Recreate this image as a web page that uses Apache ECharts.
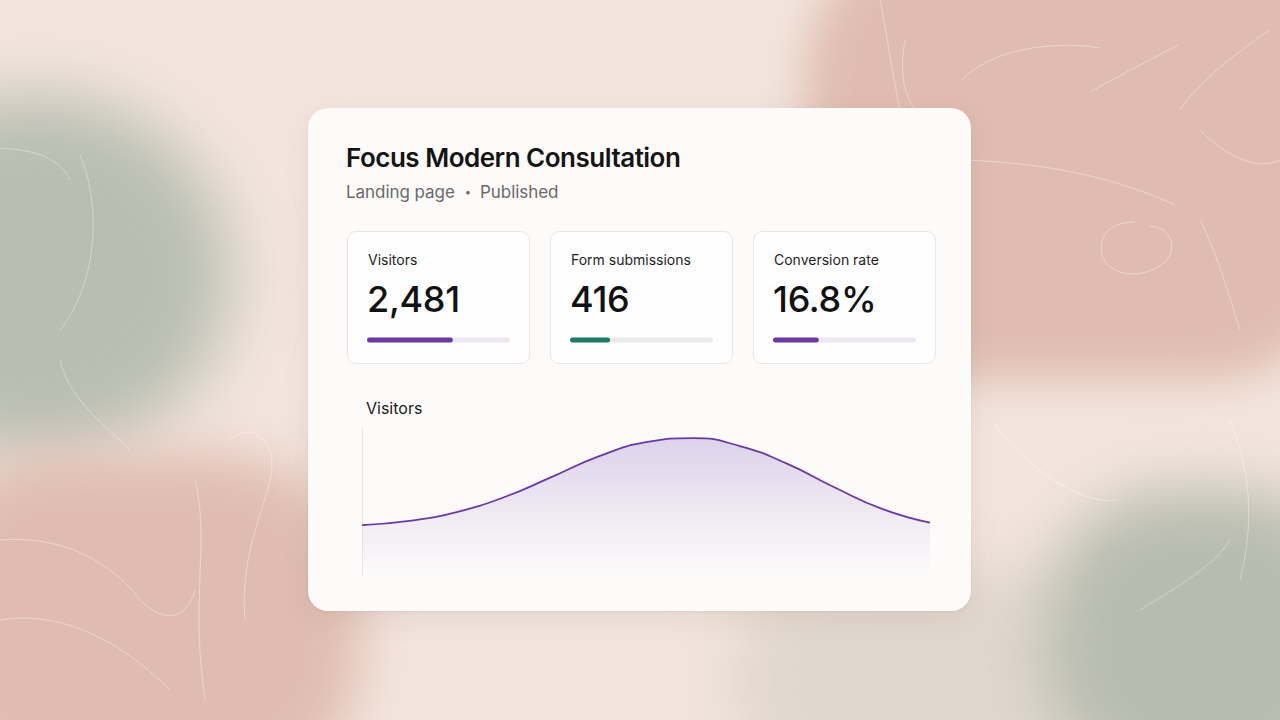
<!DOCTYPE html>
<html>
<head>
<meta charset="utf-8">
<script src="https://cdn.jsdelivr.net/npm/echarts/dist/echarts.min.js"></script>
<style>
  html, body { margin: 0; padding: 0; width: 1280px; height: 720px; overflow: hidden; }
  body { background: #f3e5dd; font-family: Inter, "Noto Sans", "Liberation Sans", sans-serif; position: relative; }
  .blob { position: absolute; }
  #squiggles { position: absolute; left: 0; top: 0; }
  .card { position: absolute; left: 308px; top: 108px; width: 663px; height: 503px; border-radius: 20px;
          background: #fcfbfa; box-shadow: 0 8px 28px rgba(120, 90, 80, 0.10), 0 1px 3px rgba(120,90,80,0.08); }
  .title { position: absolute; left: 346px; top: 142px; font-size: 26px; font-weight: 600; color: #141414; letter-spacing: -0.5px; white-space: nowrap; }
  .subtitle { position: absolute; left: 346px; top: 182px; font-size: 17px; color: #6a6a6a; white-space: nowrap; letter-spacing: -0.05px; }
  .subtitle .dot { display: inline-block; font-size: 11px; vertical-align: 2px; margin: 0 9px 0 10px; }
  .kpi { position: absolute; top: 231px; width: 183px; height: 133px; border-radius: 9px; background: #fefefe;
         border: 1px solid #e9e6e4; box-sizing: border-box; }
  .kpi-label { position: absolute; left: 20px; top: 19px; font-size: 14px; color: #1e1e1e; white-space: nowrap; }
  .kpi-value { position: absolute; left: 19px; top: 45px; font-size: 36px; font-weight: 500; color: #111; letter-spacing: -0.3px; white-space: nowrap; }
  .chart-title { position: absolute; left: 366px; top: 398px; font-size: 16px; color: #1a1a1a; white-space: nowrap; }
  #chart { position: absolute; left: 0; top: 0; width: 1280px; height: 720px; }
</style>
</head>
<body>
<div class="blob" style="left:-160px;top:95px;width:390px;height:360px;border-radius:50%;background:#b9beb2;filter:blur(32px);"></div>
<div class="blob" style="left:805px;top:-80px;width:560px;height:460px;border-radius:160px;background:#e0bcb0;filter:blur(22px);"></div>
<div class="blob" style="left:-80px;top:455px;width:440px;height:340px;border-radius:140px;background:#e0bcb0;filter:blur(26px);"></div>
<div class="blob" style="left:730px;top:570px;width:380px;height:220px;border-radius:100px;background:#e0d7cd;filter:blur(30px);"></div>
<div class="blob" style="left:1045px;top:490px;width:320px;height:300px;border-radius:130px;background:#b8bcb0;filter:blur(30px);"></div>

<svg id="squiggles" width="1280" height="720" fill="none" stroke="rgba(255,255,255,0.38)" stroke-width="1">
  <path d="M962 160 C1020 162 1100 170 1175 205"/>
  <path d="M1135 222 C1110 222 1098 235 1102 255 C1108 275 1140 282 1165 262 C1178 248 1172 228 1150 226"/>
  <path d="M1090 92 C1120 75 1150 60 1178 45"/>
  <path d="M962 80 C990 50 1050 40 1100 48"/>
  <path d="M1180 110 C1200 80 1240 50 1270 30"/>
  <path d="M1200 130 C1230 160 1260 170 1280 160"/>
  <path d="M880 0 C886 30 890 60 900 110"/>
  <path d="M905 40 C900 70 902 90 915 110"/>
  <path d="M1200 220 C1220 260 1230 300 1240 330"/>
  <path d="M0 540 C60 535 110 560 140 600 C160 620 185 625 195 590"/>
  <path d="M195 480 C210 540 190 600 205 700"/>
  <path d="M230 440 C250 420 280 440 270 480 C260 520 240 560 245 620"/>
  <path d="M60 360 C70 400 100 420 130 450"/>
  <path d="M0 620 C60 610 120 640 170 690"/>
  <path d="M0 148 C40 150 60 160 70 180"/>
  <path d="M80 155 C100 200 100 280 60 330"/>
  <path d="M993 423 C1030 470 1080 505 1117 500"/>
  <path d="M1140 610 C1180 585 1215 565 1230 540"/>
  <path d="M1230 420 C1250 470 1255 520 1240 580"/>
</svg>

<div class="card"></div>
<div class="title" id="title"></div>
<div class="subtitle" id="subtitle"></div>
<div id="kpis"></div>
<div class="chart-title" id="chartTitle"></div>
<div id="chart"></div>

<script>
// ---- data ----
const titleText = 'Focus Modern Consultation';
const subtitleParts = ['Landing page', 'Published'];
const kpiLabels = ['Visitors', 'Form submissions', 'Conversion rate'];
const kpiValues = ['2,481', '416', '16.8%'];
const kpiProgress = [0.60, 0.28, 0.32];
const chartTitleText = 'Visitors';
const chartCategories = ['D1','D2','D3','D4','D5','D6','D7','D8','D9','D10','D11','D12','D13'];
const visitorsSeries = [86, 93, 108, 133, 167, 202, 226, 233, 219, 189, 149, 113, 90];

// ---- styles ----
const kpiLefts = [347, 550, 753];
const barColors = ['#6a3aa2', '#1e7a62', '#6a3aa2'];
const trackColors = ['#ede6f4', '#ebeaea', '#ede6f4'];

document.getElementById('title').textContent = titleText;
const sub = document.getElementById('subtitle');
sub.appendChild(document.createTextNode(subtitleParts[0]));
const dot = document.createElement('span'); dot.className = 'dot'; dot.textContent = '\u2022';
sub.appendChild(dot);
sub.appendChild(document.createTextNode(subtitleParts[1]));
document.getElementById('chartTitle').textContent = chartTitleText;
const kpiWrap = document.getElementById('kpis');
kpiLabels.forEach((lab, i) => {
  const box = document.createElement('div');
  box.className = 'kpi';
  box.style.left = kpiLefts[i] + 'px';
  box.innerHTML = '<div class="kpi-label"></div><div class="kpi-value"></div>';
  box.querySelector('.kpi-label').textContent = lab;
  box.querySelector('.kpi-value').textContent = kpiValues[i];
  kpiWrap.appendChild(box);
});

const chart = echarts.init(document.getElementById('chart'), null, { renderer: 'canvas' });
const grids = [], xAxes = [], yAxes = [], series = [];
kpiProgress.forEach((p, i) => {
  grids.push({ left: 367 + i * 203, top: 337, width: 143, height: 6 });
  xAxes.push({ type: 'value', gridIndex: i, min: 0, max: 1, show: false });
  yAxes.push({ type: 'category', gridIndex: i, data: [kpiLabels[i]], show: false });
  series.push({
    type: 'bar', xAxisIndex: i, yAxisIndex: i, data: [p], barWidth: 5, silent: true,
    showBackground: true, backgroundStyle: { color: trackColors[i], borderRadius: 3 },
    itemStyle: { color: barColors[i], borderRadius: 3 }, animation: false
  });
});
grids.push({ left: 362, top: 428, width: 568, height: 148 });
xAxes.push({ type: 'category', gridIndex: 3, data: chartCategories, boundaryGap: false, show: false });
yAxes.push({
  type: 'value', gridIndex: 3, min: 0, max: 250,
  axisLine: { show: true, lineStyle: { color: '#ebe8e6', width: 1 } },
  axisTick: { show: false }, axisLabel: { show: false }, splitLine: { show: false }
});
series.push({
  type: 'line', xAxisIndex: 3, yAxisIndex: 3, data: visitorsSeries, smooth: true,
  symbol: 'none', silent: true, animation: false,
  lineStyle: { color: '#6a3aa2', width: 1.8 },
  areaStyle: {
    color: new echarts.graphic.LinearGradient(0, 0, 0, 1, [
      { offset: 0, color: 'rgba(124, 80, 186, 0.34)' },
      { offset: 0.6, color: 'rgba(124, 80, 186, 0.12)' },
      { offset: 1, color: 'rgba(124, 80, 186, 0.0)' }
    ])
  }
});
chart.setOption({
  backgroundColor: 'transparent',
  grid: grids, xAxis: xAxes, yAxis: yAxes, series: series
});
</script>
</body>
</html>
